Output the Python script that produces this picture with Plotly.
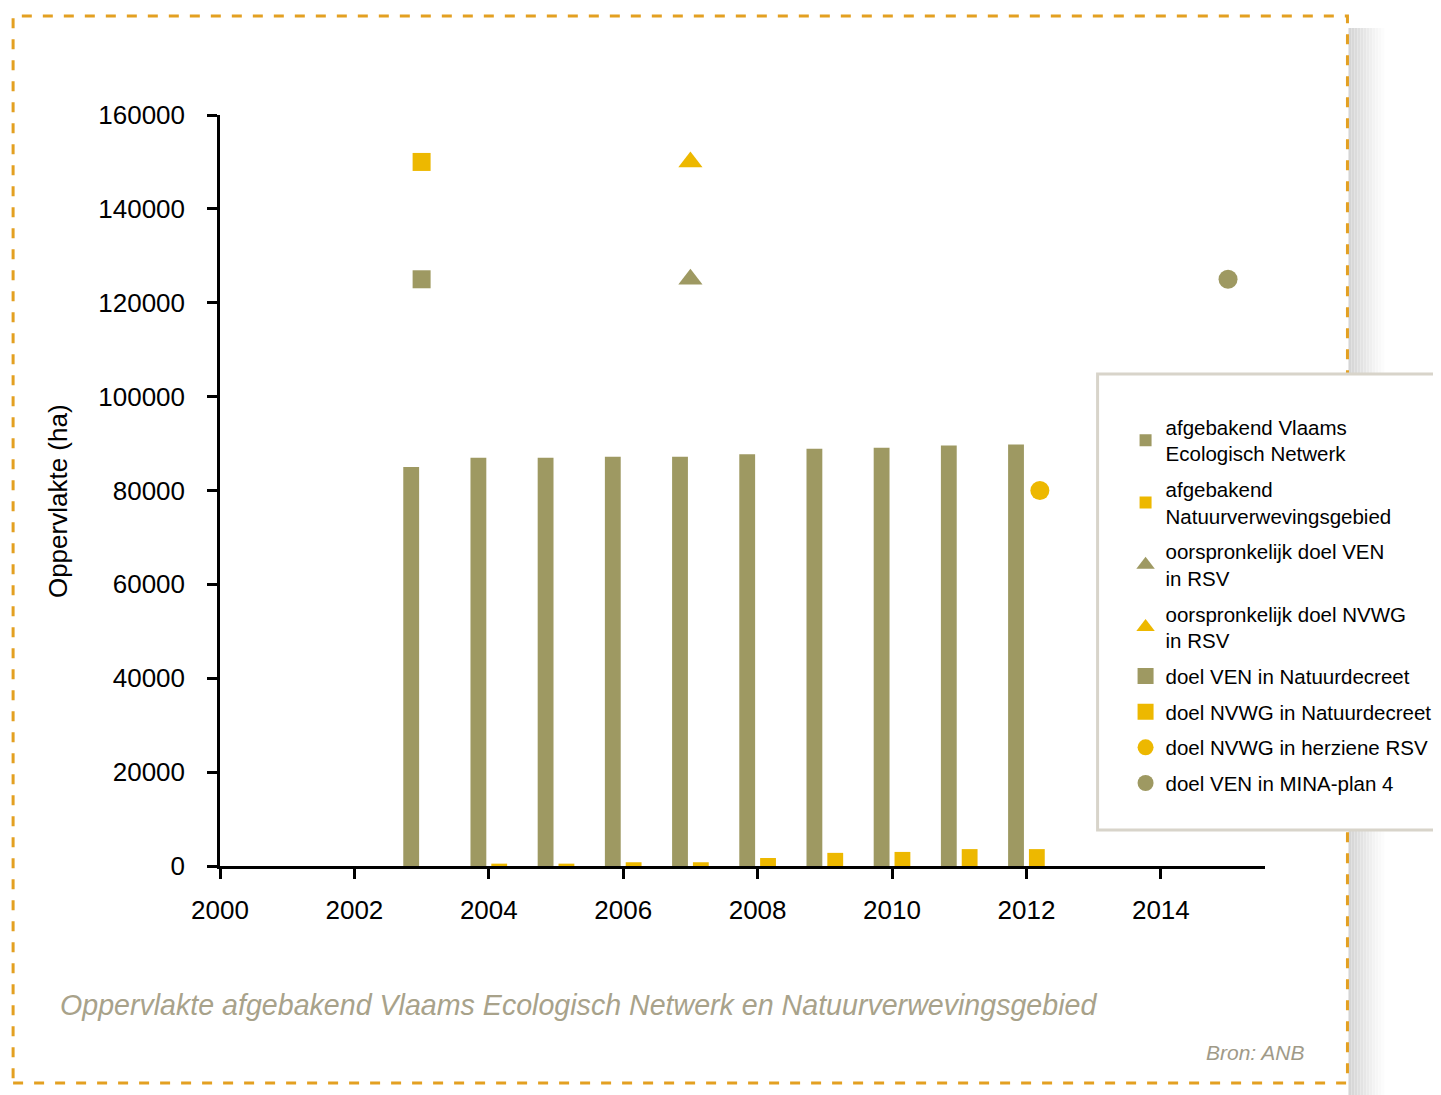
import plotly.graph_objects as go

# ---- data ----
years = [2003, 2004, 2005, 2006, 2007, 2008, 2009, 2010, 2011, 2012]
ven_area = [85000, 87000, 87000, 87200, 87200, 87700, 88900, 89100, 89600, 89800]
nvwg_area = [None, 500, 500, 800, 800, 1700, 2800, 3000, 3600, 3600]

tri_x = [2007]
tri_ven = [125000]
tri_nvwg = [150000]
sq_x = [2003]
sq_ven = [125000]
sq_nvwg = [150000]
circ_nvwg_x = [2012.2]
circ_nvwg = [80000]
circ_ven_x = [2015]
circ_ven = [125000]

x_ticks = [2000, 2002, 2004, 2006, 2008, 2010, 2012, 2014]
y_ticks = [0, 20000, 40000, 60000, 80000, 100000, 120000, 140000, 160000]

OLIVE = "#9e9962"
YELLOW = "#edb800"
FONT = "Liberation Sans, Arial, Helvetica, sans-serif"

OFF = 8  # browser default body margin
W, H = 1441 - OFF, 1095 - OFF
# plot area in page px
L, R, T, B = 220, 1265.5, 115, 866


def px(x):
    return (x - L) / (R - L)


def py(y):
    return (B - y) / (B - T)


fig = go.Figure()
fig.add_trace(go.Bar(x=years, y=ven_area, name="afgebakend Vlaams<br>Ecologisch Netwerk",
                     legendgroup="g1", marker=dict(color=OLIVE, line=dict(width=0))))
fig.add_trace(go.Bar(x=years, y=nvwg_area, name="afgebakend<br>Natuurverwevingsgebied",
                     legendgroup="g2", marker=dict(color=YELLOW, line=dict(width=0))))
fig.add_trace(go.Scatter(x=tri_x, y=tri_ven, mode="markers", name="oorspronkelijk doel VEN<br>in RSV",
                         legendgroup="g3",
                         marker=dict(symbol="triangle-up", size=21, color=OLIVE), cliponaxis=False))
fig.add_trace(go.Scatter(x=tri_x, y=tri_nvwg, mode="markers", name="oorspronkelijk doel NVWG<br>in RSV",
                         legendgroup="g4",
                         marker=dict(symbol="triangle-up", size=21, color=YELLOW), cliponaxis=False))
fig.add_trace(go.Scatter(x=sq_x, y=sq_ven, mode="markers", name="doel VEN in Natuurdecreet",
                         legendgroup="g5",
                         marker=dict(symbol="square", size=18, color=OLIVE), cliponaxis=False))
fig.add_trace(go.Scatter(x=sq_x, y=sq_nvwg, mode="markers", name="doel NVWG in Natuurdecreet",
                         legendgroup="g6",
                         marker=dict(symbol="square", size=18, color=YELLOW), cliponaxis=False))
fig.add_trace(go.Scatter(x=circ_nvwg_x, y=circ_nvwg, mode="markers", name="doel NVWG in herziene RSV",
                         legendgroup="g7",
                         marker=dict(symbol="circle", size=19, color=YELLOW), cliponaxis=False))
fig.add_trace(go.Scatter(x=circ_ven_x, y=circ_ven, mode="markers", name="doel VEN in MINA-plan 4",
                         legendgroup="g8",
                         marker=dict(symbol="circle", size=19, color=OLIVE), cliponaxis=False))

shapes = []
# right-side shadow of the card (soft gradient)
shadow_steps = ["#d5d5d5", "#d8d8d8", "#dbdbdb", "#dfdfdf", "#e3e3e3", "#e7e7e7", "#ebebeb",
                "#efefef", "#f3f3f3", "#f6f6f6", "#f9f9f9", "#fcfcfc"]
for i, col in enumerate(shadow_steps):
    x0 = 1349 + i * 3
    shapes.append(dict(type="rect", xref="paper", yref="paper", x0=px(x0), x1=px(x0 + 3),
                       y0=py(1100), y1=py(28), fillcolor=col, line=dict(width=0), layer="below"))
# dashed orange frame
shapes.append(dict(type="rect", xref="paper", yref="paper", x0=px(13), x1=px(1348),
                   y0=py(1083), y1=py(16), line=dict(color="#e3a021", width=3, dash="10px,11px"),
                   fillcolor="rgba(0,0,0,0)", layer="below"))
# legend box
shapes.append(dict(type="rect", xref="paper", yref="paper", x0=px(1098), x1=px(1460),
                   y0=py(830), y1=py(374), line=dict(color="#d8d4ca", width=3),
                   fillcolor="white", layer="above"))

annotations = [
    dict(text="Oppervlakte (ha)", xref="paper", yref="paper", x=px(58), y=py(501),
         textangle=-90, showarrow=False, font=dict(family=FONT, size=26, color="black"),
         xanchor="center", yanchor="middle"),
    dict(text="<i>Oppervlakte afgebakend Vlaams Ecologisch Netwerk en Natuurverwevingsgebied</i>",
         xref="paper", yref="paper", x=px(58), y=py(1005), showarrow=False,
         font=dict(family=FONT, size=28.6, color="#a8a28a"), xanchor="left", yanchor="middle"),
    dict(text="<i>Bron: ANB</i>", xref="paper", yref="paper", x=px(1307), y=py(1052),
         showarrow=False, font=dict(family=FONT, size=21, color="#a09a88"),
         xanchor="right", yanchor="middle"),
]

fig.update_layout(
    width=W, height=H,
    margin=dict(l=L - OFF, r=W - (R - OFF), t=T - OFF, b=H - (B - OFF), autoexpand=False),
    paper_bgcolor="white", plot_bgcolor="white",
    barmode="group", bargap=0.38, bargroupgap=0.24,
    font=dict(family=FONT, color="black"),
    showlegend=True,
    legend=dict(x=px(1126), y=py(407), xanchor="left", yanchor="top",
                font=dict(family=FONT, size=20.5, color="black"),
                bgcolor="rgba(0,0,0,0)", borderwidth=0, tracegroupgap=6,
                traceorder="grouped", itemwidth=30),
    shapes=shapes, annotations=annotations,
    xaxis=dict(range=[2000, 2015.55], tickvals=x_ticks, ticktext=[str(v) for v in x_ticks],
               showgrid=False, zeroline=False, showline=True, linecolor="black", linewidth=2.5,
               ticks="outside", ticklen=10, tickwidth=2.5, tickcolor="black",
               tickfont=dict(family=FONT, size=26, color="black"), ticklabelstandoff=9),
    yaxis=dict(range=[0, 160000], tickvals=y_ticks, ticktext=[str(v) for v in y_ticks],
               showgrid=False, zeroline=False, showline=True, linecolor="black", linewidth=2.5,
               ticks="outside", ticklen=10, tickwidth=2.5, tickcolor="black",
               tickfont=dict(family=FONT, size=26, color="black"), ticklabelstandoff=17),
)

fig.write_html("out.html")
